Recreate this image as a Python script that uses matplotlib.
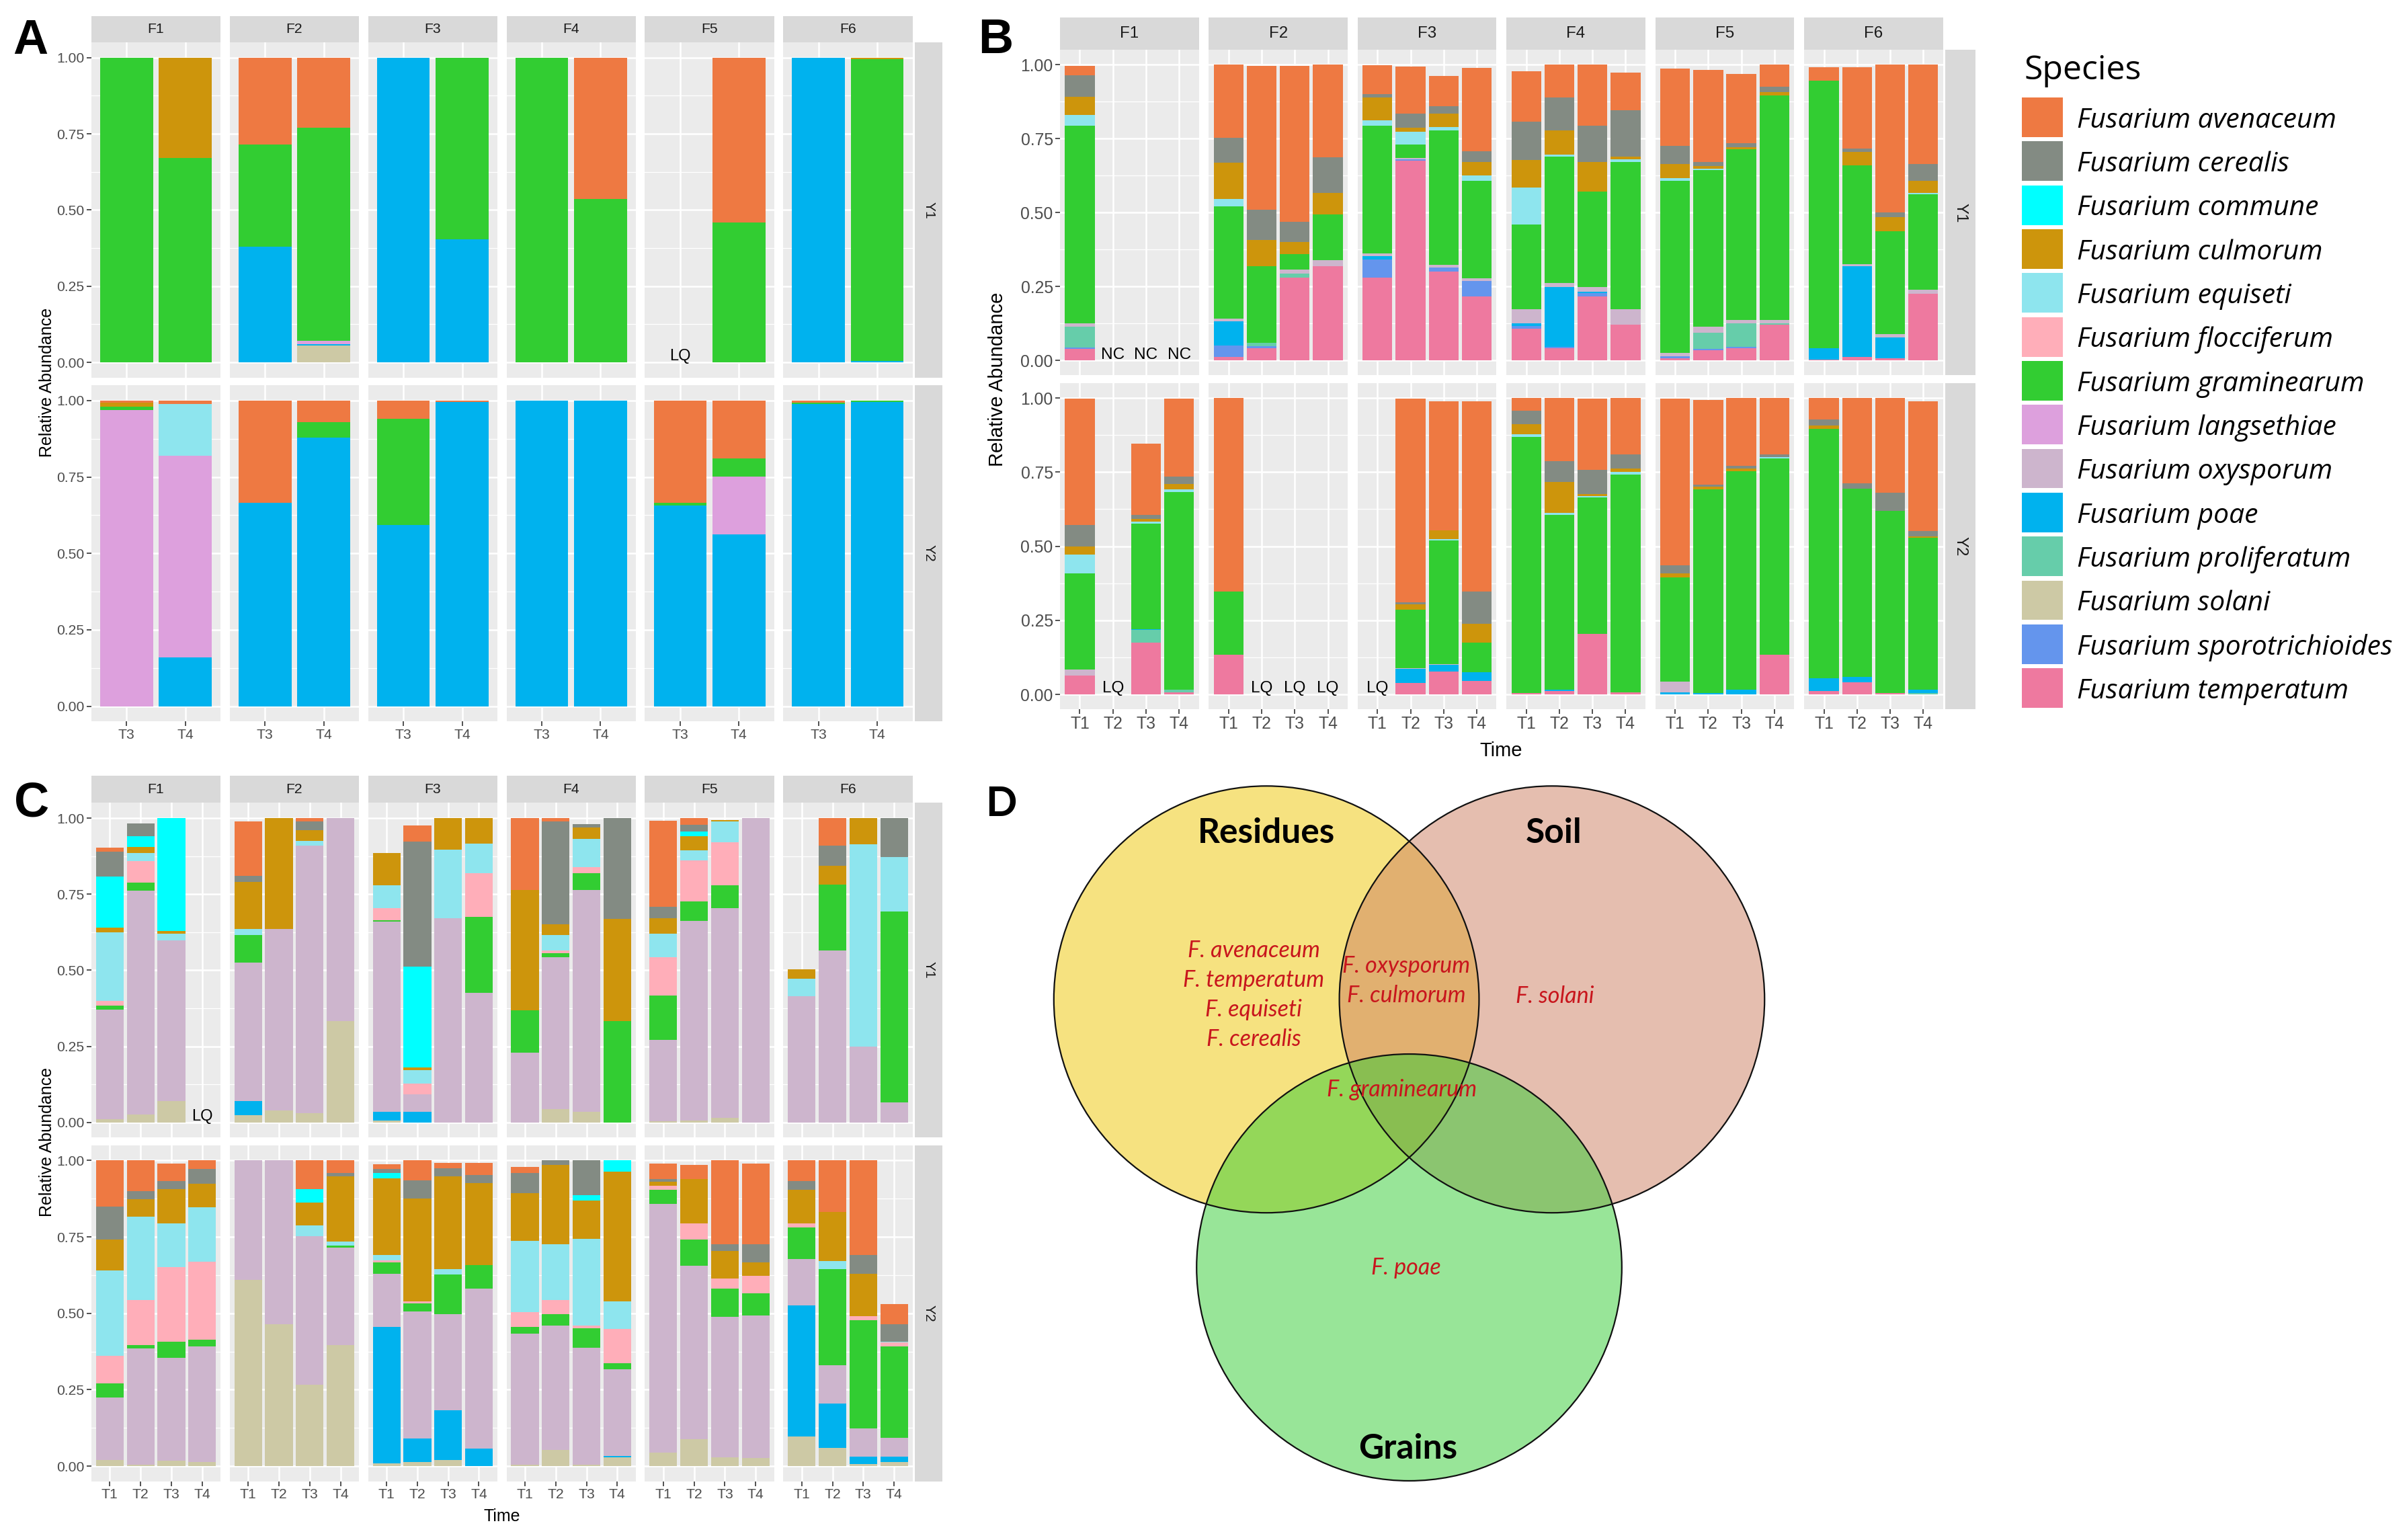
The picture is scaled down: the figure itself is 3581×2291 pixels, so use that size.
import matplotlib.pyplot as plt
from matplotlib.colors import to_rgba
from matplotlib.patches import Ellipse, Rectangle

plt.rcParams['font.family'] = ['Liberation Sans', 'DejaVu Sans']

# species legend (top of stack first, as in the ggplot factor order)
SPECIES = ['Fusarium avenaceum', 'Fusarium cerealis', 'Fusarium commune', 'Fusarium culmorum',
           'Fusarium equiseti', 'Fusarium flocciferum', 'Fusarium graminearum', 'Fusarium langsethiae',
           'Fusarium oxysporum', 'Fusarium poae', 'Fusarium proliferatum', 'Fusarium solani',
           'Fusarium sporotrichioides', 'Fusarium temperatum']
CODES = ['ave', 'cer', 'com', 'cul', 'equ', 'flo', 'gra', 'lan', 'oxy', 'poa', 'pro', 'sol', 'spo', 'tem']
COLORS = ['#EE7942', '#838B83', '#00FFFF', '#CD950C', '#8EE5EE', '#FFAEB9', '#32CD32', '#DDA0DD',
          '#CDB5CD', '#00B2EE', '#66CDAA', '#CDC9A5', '#6495ED', '#EE799F']

FIELDS = ['F1', 'F2', 'F3', 'F4', 'F5', 'F6']
YEARS = ['Y1', 'Y2']
TIMES_A = ['T3', 'T4']
TIMES_BC = ['T1', 'T2', 'T3', 'T4']

# relative abundances; one list per field, one dict per time (None = no bar)
A_Y1 = [
    [dict(gra=1.0), dict(gra=0.67, cul=0.33)],
    [dict(poa=0.38, gra=0.335, ave=0.285), dict(poa=0.005, lan=0.01, sol=0.055, gra=0.70, ave=0.23)],
    [dict(poa=1.0), dict(poa=0.404, gra=0.596)],
    [dict(gra=1.0), dict(gra=0.537, ave=0.463)],
    [None, dict(gra=0.458, ave=0.542)],
    [dict(poa=1.0), dict(poa=0.004, gra=0.99, cul=0.006)],
]
A_Y2 = [
    [dict(lan=0.969, gra=0.012, cul=0.012, ave=0.007), dict(poa=0.16, lan=0.66, equ=0.17, ave=0.01)],
    [dict(poa=0.666, ave=0.334), dict(poa=0.879, gra=0.051, ave=0.07)],
    [dict(poa=0.594, gra=0.346, ave=0.06), dict(poa=0.995, ave=0.005)],
    [dict(poa=1.0), dict(poa=1.0)],
    [dict(poa=0.656, gra=0.01, ave=0.334), dict(poa=0.563, lan=0.188, gra=0.059, ave=0.19)],
    [dict(poa=0.989, gra=0.005, ave=0.006), dict(poa=0.996, gra=0.004)],
]
B_Y1 = [
    [dict(tem=0.04, spo=0.005, pro=0.07, oxy=0.01, gra=0.668, equ=0.038, cul=0.061, cer=0.072, ave=0.033),
     None, None, None],
    [dict(tem=0.012, spo=0.038, poa=0.083, oxy=0.008, gra=0.381, equ=0.023, cul=0.123, cer=0.085, ave=0.247),
     dict(tem=0.042, spo=0.006, pro=0.013, gra=0.259, cul=0.088, cer=0.101, ave=0.488),
     dict(tem=0.28, pro=0.014, oxy=0.014, gra=0.052, cul=0.04, cer=0.068, ave=0.529),
     dict(tem=0.32, oxy=0.019, gra=0.154, cul=0.073, cer=0.122, ave=0.312)],
    [dict(tem=0.28, spo=0.061, poa=0.013, oxy=0.008, gra=0.431, equ=0.02, cul=0.077, cer=0.01, ave=0.098),
     dict(tem=0.676, spo=0.004, oxy=0.004, gra=0.046, equ=0.044, cul=0.012, cer=0.048, ave=0.16),
     dict(tem=0.30, spo=0.014, oxy=0.01, gra=0.454, equ=0.012, cul=0.044, cer=0.025, ave=0.102),
     dict(tem=0.216, spo=0.054, oxy=0.007, gra=0.33, equ=0.019, cul=0.046, cer=0.035, ave=0.283)],
    [dict(tem=0.108, spo=0.008, poa=0.01, oxy=0.047, gra=0.286, equ=0.126, cul=0.093, cer=0.129, ave=0.171),
     dict(tem=0.042, spo=0.004, poa=0.202, oxy=0.014, gra=0.428, equ=0.007, cul=0.081, cer=0.111, ave=0.111),
     dict(tem=0.216, spo=0.012, poa=0.005, oxy=0.015, gra=0.322, cul=0.102, cer=0.121, ave=0.207),
     dict(tem=0.121, oxy=0.052, gra=0.498, equ=0.01, cul=0.008, cer=0.157, ave=0.127)],
    [dict(tem=0.008, spo=0.007, oxy=0.01, gra=0.582, equ=0.009, cul=0.048, cer=0.061, ave=0.261),
     dict(tem=0.036, spo=0.004, pro=0.053, oxy=0.021, gra=0.529, equ=0.006, cul=0.008, cer=0.013, ave=0.312),
     dict(tem=0.042, spo=0.004, pro=0.08, oxy=0.011, gra=0.577, cul=0.007, cer=0.013, ave=0.235),
     dict(tem=0.121, pro=0.005, oxy=0.011, gra=0.759, cul=0.012, cer=0.018, ave=0.074)],
    [dict(tem=0.004, poa=0.038, gra=0.904, ave=0.046),
     dict(tem=0.012, poa=0.308, oxy=0.006, gra=0.334, cul=0.045, cer=0.012, ave=0.275),
     dict(tem=0.007, poa=0.07, oxy=0.013, gra=0.347, cul=0.048, cer=0.016, ave=0.499),
     dict(tem=0.225, oxy=0.014, gra=0.323, equ=0.005, cul=0.04, cer=0.057, ave=0.336)],
]
B_Y2 = [
    [dict(tem=0.064, oxy=0.019, gra=0.326, equ=0.062, cul=0.028, cer=0.072, ave=0.427),
     None,
     dict(tem=0.175, pro=0.042, poa=0.004, gra=0.356, equ=0.007, cul=0.007, cer=0.015, ave=0.241),
     dict(tem=0.007, pro=0.009, gra=0.666, equ=0.009, cul=0.02, cer=0.024, ave=0.262)],
    [dict(tem=0.134, gra=0.212, ave=0.654), None, None, None],
    [None,
     dict(tem=0.039, poa=0.047, oxy=0.003, gra=0.196, cul=0.019, cer=0.006, ave=0.687),
     dict(tem=0.077, poa=0.022, oxy=0.004, gra=0.416, equ=0.004, cul=0.031, ave=0.435),
     dict(tem=0.046, poa=0.029, gra=0.1, cul=0.064, cer=0.109, ave=0.641)],
    [dict(tem=0.004, gra=0.865, equ=0.008, cul=0.035, cer=0.044, ave=0.044),
     dict(tem=0.011, poa=0.005, gra=0.59, equ=0.006, cul=0.105, cer=0.069, ave=0.214),
     dict(tem=0.204, gra=0.461, equ=0.005, cul=0.006, cer=0.081, ave=0.24),
     dict(tem=0.007, gra=0.735, equ=0.009, cul=0.01, cer=0.049, ave=0.19)],
    [dict(poa=0.007, oxy=0.037, gra=0.35, cul=0.015, cer=0.027, ave=0.561),
     dict(poa=0.004, gra=0.688, cul=0.008, cer=0.007, ave=0.287),
     dict(poa=0.016, gra=0.737, cul=0.008, cer=0.01, ave=0.229),
     dict(tem=0.134, gra=0.662, equ=0.004, cer=0.009, ave=0.191)],
    [dict(tem=0.011, poa=0.044, gra=0.84, cul=0.013, cer=0.019, ave=0.073),
     dict(tem=0.04, poa=0.018, gra=0.636, cer=0.019, ave=0.287),
     dict(tem=0.004, gra=0.615, cer=0.062, ave=0.319),
     dict(poa=0.011, pro=0.004, gra=0.513, cul=0.006, cer=0.017, ave=0.438)],
]
C_Y1 = [
    [dict(sol=0.01, oxy=0.361, gra=0.012, flo=0.016, equ=0.226, cul=0.014, com=0.169, cer=0.081, ave=0.014),
     dict(sol=0.026, oxy=0.736, gra=0.026, flo=0.07, equ=0.027, cul=0.021, com=0.034, cer=0.043),
     dict(sol=0.069, oxy=0.528, equ=0.024, cul=0.008, com=0.371),
     None],
    [dict(sol=0.023, poa=0.046, oxy=0.457, gra=0.089, equ=0.021, cul=0.154, cer=0.02, ave=0.18),
     dict(sol=0.04, oxy=0.596, cul=0.364),
     dict(sol=0.03, oxy=0.88, equ=0.015, cul=0.036, cer=0.027, ave=0.012),
     dict(sol=0.332, oxy=0.668)],
    [dict(sol=0.005, poa=0.029, oxy=0.625, gra=0.006, flo=0.038, equ=0.077, cul=0.106),
     dict(poa=0.034, oxy=0.058, flo=0.035, equ=0.044, cul=0.01, com=0.331, cer=0.411, ave=0.052),
     dict(oxy=0.671, equ=0.226, cul=0.103),
     dict(oxy=0.425, gra=0.25, flo=0.144, equ=0.098, cul=0.083)],
    [dict(oxy=0.23, gra=0.139, cul=0.395, ave=0.236),
     dict(sol=0.044, oxy=0.498, gra=0.014, flo=0.009, equ=0.05, cul=0.036, cer=0.339, ave=0.01),
     dict(sol=0.034, oxy=0.73, gra=0.054, flo=0.02, equ=0.093, cul=0.038, cer=0.012),
     dict(gra=0.332, cul=0.337, cer=0.331)],
    [dict(sol=0.004, oxy=0.268, gra=0.145, flo=0.125, equ=0.078, cul=0.051, cer=0.038, ave=0.282),
     dict(sol=0.006, oxy=0.655, gra=0.065, flo=0.134, equ=0.035, cul=0.046, com=0.014, cer=0.022, ave=0.023),
     dict(sol=0.014, oxy=0.689, gra=0.077, flo=0.141, equ=0.067, cul=0.006),
     dict(oxy=1.0)],
    [dict(oxy=0.415, equ=0.057, cul=0.03),
     dict(oxy=0.565, gra=0.217, cul=0.062, cer=0.065, ave=0.091),
     dict(oxy=0.25, equ=0.665, cul=0.085),
     dict(oxy=0.065, gra=0.629, equ=0.177, cer=0.129)],
]
C_Y2 = [
    [dict(sol=0.021, oxy=0.204, gra=0.046, flo=0.09, equ=0.28, cul=0.1, cer=0.109, ave=0.15),
     dict(sol=0.005, oxy=0.38, gra=0.012, flo=0.146, equ=0.274, cul=0.056, cer=0.026, ave=0.101),
     dict(sol=0.017, oxy=0.337, gra=0.054, flo=0.244, equ=0.143, cul=0.112, cer=0.026, ave=0.058),
     dict(sol=0.013, oxy=0.378, gra=0.022, flo=0.256, equ=0.178, cul=0.076, cer=0.049, ave=0.028)],
    [dict(sol=0.61, oxy=0.39),
     dict(sol=0.464, oxy=0.536),
     dict(sol=0.267, oxy=0.485, equ=0.035, cul=0.075, com=0.045, ave=0.093),
     dict(sol=0.397, oxy=0.317, gra=0.007, equ=0.014, cul=0.213, cer=0.011, ave=0.041)],
    [dict(sol=0.01, poa=0.446, oxy=0.173, gra=0.037, flo=0.007, equ=0.017, cul=0.252, com=0.017, cer=0.013, ave=0.015),
     dict(sol=0.013, poa=0.077, oxy=0.417, gra=0.026, flo=0.006, cul=0.336, cer=0.06, ave=0.065),
     dict(sol=0.021, poa=0.161, oxy=0.315, gra=0.131, equ=0.017, cul=0.303, cer=0.026, ave=0.019),
     dict(poa=0.058, oxy=0.522, gra=0.078, cul=0.268, cer=0.027, ave=0.04)],
    [dict(sol=0.005, oxy=0.428, gra=0.023, flo=0.047, equ=0.234, cul=0.157, cer=0.065, ave=0.021),
     dict(sol=0.052, oxy=0.408, gra=0.037, flo=0.046, equ=0.184, cul=0.259, cer=0.014),
     dict(sol=0.005, oxy=0.382, gra=0.064, flo=0.009, equ=0.284, cul=0.124, com=0.019, cer=0.113),
     dict(sol=0.028, poa=0.005, oxy=0.285, gra=0.019, flo=0.113, equ=0.089, cul=0.424, com=0.037)],
    [dict(sol=0.045, oxy=0.812, gra=0.048, flo=0.012, cul=0.013, cer=0.01, ave=0.051),
     dict(sol=0.088, oxy=0.567, gra=0.086, flo=0.054, cul=0.145, ave=0.046),
     dict(sol=0.028, oxy=0.46, gra=0.094, flo=0.031, cul=0.092, cer=0.022, ave=0.273),
     dict(sol=0.026, oxy=0.468, gra=0.072, flo=0.057, cul=0.043, cer=0.061, ave=0.262)],
    [dict(sol=0.097, poa=0.429, oxy=0.151, gra=0.103, flo=0.015, cul=0.11, cer=0.028, ave=0.067),
     dict(sol=0.06, poa=0.144, oxy=0.127, gra=0.314, equ=0.026, cul=0.16, ave=0.169),
     dict(sol=0.006, poa=0.024, oxy=0.093, gra=0.354, flo=0.013, cul=0.139, cer=0.061, ave=0.31),
     dict(sol=0.013, poa=0.017, oxy=0.063, gra=0.298, flo=0.013, equ=0.004, cer=0.056, ave=0.067)],
]

# (panel, year index, field index, time index, text)
NOTES = [('A', 0, 4, 0, 'LQ'),
         ('B', 0, 0, 1, 'NC'), ('B', 0, 0, 2, 'NC'), ('B', 0, 0, 3, 'NC'),
         ('B', 1, 0, 1, 'LQ'), ('B', 1, 1, 1, 'LQ'), ('B', 1, 1, 2, 'LQ'), ('B', 1, 1, 3, 'LQ'),
         ('B', 1, 2, 0, 'LQ'),
         ('C', 0, 0, 3, 'LQ')]

YTICKS = [0.0, 0.25, 0.5, 0.75, 1.0]
YTICK_LABELS = ['0.00', '0.25', '0.50', '0.75', '1.00']

# Venn diagram (panel D)
VENN_SETS = ['Residues', 'Soil', 'Grains']
VENN_COLORS = ['#EFC703', '#CD7F61', '#33CD33']
VENN_RESIDUES_ONLY = ['F. avenaceum', 'F. temperatum', 'F. equiseti', 'F. cerealis']
VENN_RESIDUES_SOIL = ['F. oxysporum', 'F. culmorum']
VENN_SOIL_ONLY = ['F. solani']
VENN_ALL = ['F. graminearum']
VENN_GRAINS_ONLY = ['F. poae']

# layout works in a 1568-wide pixel frame of the page
W = 1568.0
H = 2291 * W / 3581


def frac(x0, y0, x1, y1):
    return [x0 / W, 1 - y1 / H, (x1 - x0) / W, (y1 - y0) / H]


fig = plt.figure(figsize=(17.905, 11.455), dpi=200)

ov = fig.add_axes([0, 0, 1, 1])
ov.set_xlim(0, W)
ov.set_ylim(H, 0)
ov.axis('off')


def strip(rect, label, size, rot=0):
    sax = fig.add_axes(frac(*rect))
    sax.set_facecolor('#D9D9D9')
    sax.set_xticks([])
    sax.set_yticks([])
    for s in sax.spines.values():
        s.set_visible(False)
    sax.text(0.5, 0.5, label, transform=sax.transAxes, ha='center', va='center',
             fontsize=size, color='#1A1A1A', rotation=rot)


def facet_block(name, rows, times, left, pw, step, row_y, strip_y, rstrip, tsize, ssize, nsize):
    n = len(times)
    xs = list(range(n))
    for r, row in enumerate(rows):
        for f, field in enumerate(row):
            x0 = left + f * step
            ax = fig.add_axes(frac(x0, row_y[r][0], x0 + pw, row_y[r][1]))
            ax.set_facecolor('#EBEBEB')
            bottoms = [0.0] * n
            for code, col in zip(CODES[::-1], COLORS[::-1]):
                h = [bar.get(code, 0.0) if bar else 0.0 for bar in field]
                if any(h):
                    ax.bar(xs, h, 0.9, bottom=bottoms, color=col, linewidth=0, zorder=2)
                    bottoms = [b + v for b, v in zip(bottoms, h)]
            for blk, rr, ff, tt, lab in NOTES:
                if blk == name and rr == r and ff == f:
                    ax.text(tt, 0.02, lab, ha='center', va='center', fontsize=nsize,
                            color='black', zorder=3)
            ax.set_xlim(-0.6, n - 0.4)
            ax.set_ylim(-0.05, 1.05)
            ax.set_xticks(xs)
            ax.set_xticklabels(times)
            ax.set_yticks(YTICKS)
            ax.set_yticklabels(YTICK_LABELS)
            ax.set_yticks([0.125, 0.375, 0.625, 0.875], minor=True)
            ax.grid(which='major', color='white', linewidth=0.9)
            ax.grid(which='minor', axis='y', color='white', linewidth=0.45)
            ax.set_axisbelow(True)
            for s in ax.spines.values():
                s.set_visible(False)
            ax.tick_params(which='major', length=2.5, width=0.6, color='#333333',
                           labelsize=tsize, labelcolor='#4D4D4D', pad=1.2)
            ax.tick_params(which='minor', length=0)
            ax.tick_params(bottom=(r == 1), labelbottom=(r == 1),
                           left=(f == 0), labelleft=(f == 0))
            if r == 0:
                strip((x0, strip_y[0], x0 + pw, strip_y[1]), FIELDS[f], ssize)
        strip((rstrip[0], row_y[r][0], rstrip[1], row_y[r][1]), YEARS[r], ssize, rot=-90)


facet_block('A', [A_Y1, A_Y2], TIMES_A, 59.5, 84.2, 90.15,
            [(27.6, 246), (251, 470)], (10.5, 27.6), (596, 614), 7.6, 7.6, 8.5)
facet_block('B', [B_Y1, B_Y2], TIMES_BC, 690.5, 90.5, 96.95,
            [(32.5, 244.5), (249.6, 462)], (11.2, 32.5), (1267, 1287), 8.9, 8.7, 8.8)
facet_block('C', [C_Y1, C_Y2], TIMES_BC, 59.5, 84.2, 90.15,
            [(523, 741), (746, 965)], (505.5, 523), (596, 614), 7.6, 7.6, 8.5)

# axis titles
ov.text(30.5, 249, 'Relative Abundance', rotation=90, ha='center', va='center', fontsize=9)
ov.text(30.5, 744, 'Relative Abundance', rotation=90, ha='center', va='center', fontsize=9)
ov.text(650, 247, 'Relative Abundance', rotation=90, ha='center', va='center', fontsize=10.5)
ov.text(978, 489, 'Time', ha='center', va='center', fontsize=10.5)
ov.text(327, 988, 'Time', ha='center', va='center', fontsize=9)

# panel letters
for lab, x, y in [('A', 20, 35), ('B', 648.5, 34.4), ('C', 20.5, 532)]:
    ov.text(x, y, lab, ha='center', va='baseline', fontsize=26, fontweight='bold')
ov.text(652, 531.5, 'D', ha='center', va='baseline', fontsize=22, fontweight='bold',
        family=['Lato', 'DejaVu Sans'])

# legend
ov.text(1318.5, 51.8, 'Species', ha='left', va='baseline', fontsize=18,
        family=['Open Sans', 'DejaVu Sans'])
for i, (sp, col) in enumerate(zip(SPECIES, COLORS)):
    y0 = 63.5 + i * 28.6
    ov.add_patch(Rectangle((1317, y0), 26.7, 25.8, facecolor=col, edgecolor='none'))
    ov.text(1353, y0 + 12.9 + 6.7, sp, ha='left', va='baseline', fontsize=14.7,
            style='italic', family=['Open Sans', 'DejaVu Sans'])

# Venn diagram
centers = [(825, 651), (1011, 651), (918, 825.6)]
for (cx, cy), col in zip(centers, VENN_COLORS):
    ov.add_patch(Ellipse((cx, cy), 277, 278, facecolor=to_rgba(col, 0.5), edgecolor='none'))
for cx, cy in centers:
    ov.add_patch(Ellipse((cx, cy), 277, 278, fill=False, edgecolor='#111111', linewidth=0.8))

venn_font = ['Lato', 'DejaVu Sans']
for name, x, y in zip(VENN_SETS, [825, 1012, 917], [549, 549, 950]):
    ov.text(x, y, name, ha='center', va='baseline', fontsize=18.5, fontweight='bold', family=venn_font)

red = '#C8161D'
groups = [(VENN_RESIDUES_ONLY, 816.6, 619), (VENN_RESIDUES_SOIL, 916, 629),
          (VENN_SOIL_ONLY, 1013, 649), (VENN_ALL, 913, 710), (VENN_GRAINS_ONLY, 916, 826)]
for names, x, y in groups:
    for k, nm in enumerate(names):
        ov.text(x, y + k * 19.3, nm, ha='center', va='center', fontsize=12.3, style='italic',
                color=red, family=venn_font)

fig.savefig('out.png', dpi=200)
